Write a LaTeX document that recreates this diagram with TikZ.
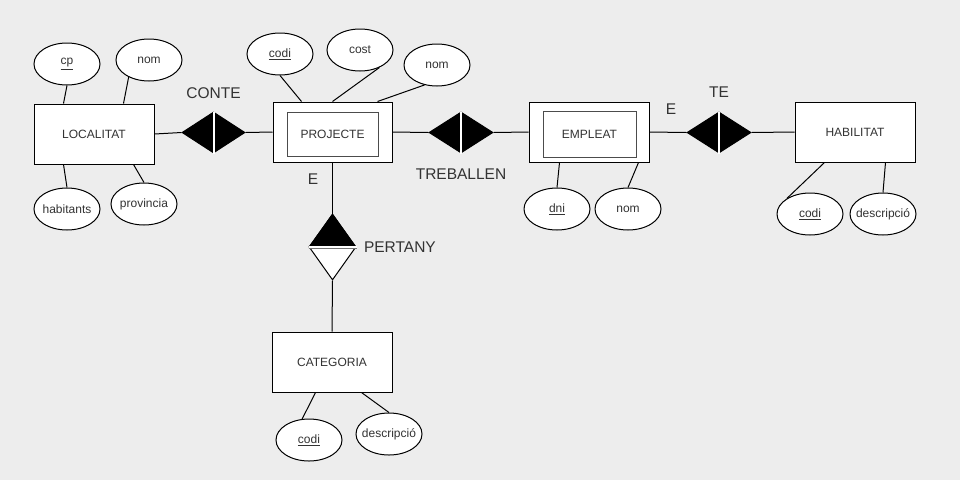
\documentclass[tikz,border=0pt]{standalone}
\usepackage{fontspec}
\setmainfont{Liberation Sans}
\usepackage{tikz}
\usetikzlibrary{shapes.geometric}
\definecolor{bgGrey}{HTML}{EDEDED}
\definecolor{txtGrey}{HTML}{333333}

\begin{document}
\begin{tikzpicture}[x=1pt, y=-1pt, line width=1pt,
        entity/.style={draw, fill=white, rectangle,
            minimum width=120pt, minimum height=60pt, inner sep=0pt,
            font=\fontsize{12}{14}\selectfont, text=txtGrey},
        inner entity/.style={draw=black!70, fill=white, rectangle, inner sep=0pt,
            font=\fontsize{12}{14}\selectfont, text=txtGrey},
        attribute/.style={draw, fill=white, ellipse,
            minimum width=66pt, minimum height=42pt, inner sep=0pt,
            font=\fontsize{12}{14}\selectfont, text=txtGrey},
        relation/.style={draw, fill=black, diamond,
            minimum width=63pt, minimum height=41pt, inner sep=0pt},
        gap/.style={white, line width=2pt},
        tag/.style={font=\fontsize{15.5}{18}\selectfont, text=txtGrey, inner sep=0pt},
        every label/.style={tag}]
    % Background
    \fill [bgGrey] (0,0) rectangle (960,480);
    % Entity LOCALITAT
    \node [entity] (loc) at (94,134) {LOCALITAT};
    % Weak entity PROJECTE
    \node [entity, minimum width=119pt] (proj) at (332.5,132) {};
    \node [inner entity,
        minimum width=91pt,
        minimum height=44pt] (projIn) at (332.5,134) {PROJECTE};
    % Weak entity EMPLEAT
    \node [entity] (empl) at (589,132) {};
    \node [inner entity,
        minimum width=93pt,
        minimum height=46pt] (emplIn) at (589.5,134) {EMPLEAT};
    % Entity HABILITAT
    \node [entity] (hab) at (855,132) {HABILITAT};
    % Entity CATEGORIA
    \node [entity] (cat) at (332,362) {CATEGORIA};

    % Relation CONTE
    \node [relation,
        label={[label distance=12.5pt]above:CONTE}] (conte) at (213.5,132.5) {};
    \draw [gap] (conte.north) -- (conte.south);
    % Relation TREBALLEN
    \node [relation,
        minimum width=64pt,
        label={[label distance=14.5pt]below:TREBALLEN}] (treb) at (461,132.5) {};
    \draw [gap] (treb.north) -- (treb.south);
    % Relation TE
    \node [relation,
        minimum width=64pt,
        label={[label distance=13.5pt]above:TE}] (te) at (719,132.5) {};
    \draw [gap] (te.north) -- (te.south);
    % Relation PERTANY
    \node [draw, fill=white, diamond,
        minimum width=47pt,
        minimum height=66pt,
        inner sep=0pt,
        label={[label distance=7pt]right:PERTANY}] (pertany) at (332.5,247) {};
    \fill (pertany.west) -- (pertany.north) -- (pertany.east) -- cycle;
    \draw [white, line width=1.2pt] (pertany.west) -- (pertany.east);
    \draw [black!55] ([yshift=-1.8pt]pertany.west) -- ([yshift=-1.8pt]pertany.east);
    % Participation marks
    \node [tag] (eProj) at (313,179) {E};
    \node [tag] (eEmpl) at (671,109) {E};

    % Attributes of LOCALITAT
    \node [attribute] (cp) at (67,64) {\underline{cp}};
    \node [attribute] (locNom) at (149,60) {nom};
    \node [attribute] (habitants) at (67,209) {\makebox[0pt]{habitants}};
    \node [attribute] (provincia) at (144,204) {\makebox[0pt]{provincia}};
    % Attributes of PROJECTE
    \node [attribute] (projCodi) at (280,54) {\underline{codi}};
    \node [attribute] (projCost) at (360,50) {cost};
    \node [attribute] (projNom) at (437,65) {nom};
    % Attributes of EMPLEAT
    \node [attribute] (dni) at (557,209) {\underline{dni}};
    \node [attribute] (emplNom) at (628,209) {nom};
    % Attributes of HABILITAT
    \node [attribute] (habCodi) at (810,214) {\underline{codi}};
    \node [attribute] (habDesc) at (883,214) {\makebox[0pt]{descripció}};
    % Attributes of CATEGORIA
    \node [attribute] (catCodi) at (309,440) {\underline{codi}};
    \node [attribute] (catDesc) at (389,434) {\makebox[0pt]{descripció}};

    % Attribute links
    \draw (cp.south) -- ([xshift=30pt]loc.north west);
    \draw (locNom.220) -- ([xshift=90pt]loc.north west);
    \draw (habitants.north) -- ([xshift=30pt]loc.south west);
    \draw (provincia.north) -- ([xshift=100pt]loc.south west);
    \draw (projCodi.south) -- ([xshift=29pt]proj.north west);
    \draw (projCost.318) -- ([xshift=60pt]proj.north west);
    \draw (projNom.238) -- ([xshift=105pt]proj.north west);
    \draw (dni.north) -- ([xshift=31pt]empl.south west);
    \draw (emplNom.north) -- ([xshift=110pt]empl.south west);
    \draw (habCodi.146) -- ([xshift=30pt]hab.south west);
    \draw (habDesc.north) -- ([xshift=91pt]hab.south west);
    \draw (catCodi.108) -- ([xshift=44pt]cat.south west);
    \draw (catDesc.north) -- ([xshift=90pt]cat.south west);

    % Relation links
    \draw (loc.east) -- (conte.west);
    \draw (conte.east) -- (proj.west);
    \draw (proj.east) -- (treb.west);
    \draw (treb.east) -- (empl.west);
    \draw (empl.east) -- (te.west);
    \draw (te.east) -- (hab.west);
    \draw (proj.south) -- (pertany.north);
    \draw (pertany.south) -- (cat.north);
\end{tikzpicture}
\end{document}
